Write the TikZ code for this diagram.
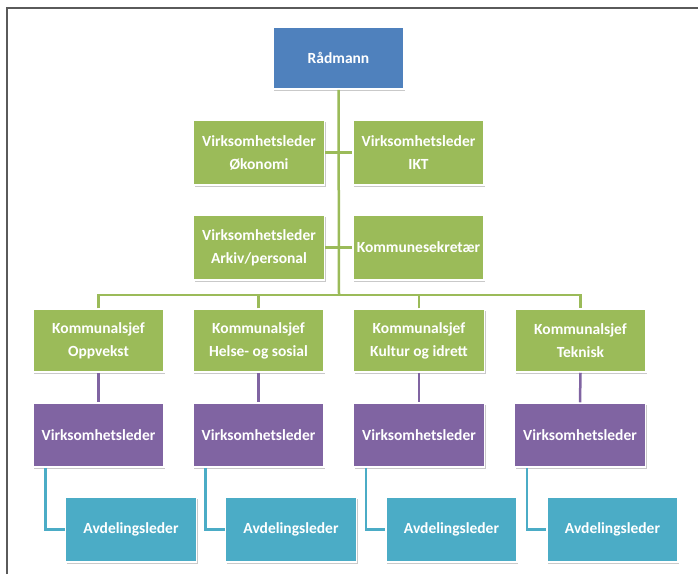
\documentclass[tikz,border=0pt]{standalone}
\usepackage{fontspec}
\setmainfont{Carlito}
\usetikzlibrary{shadows,calc}
\definecolor{cblue}{HTML}{4F81BD}
\definecolor{cgreen}{HTML}{9BBB59}
\definecolor{cpurple}{HTML}{8064A2}
\definecolor{cteal}{HTML}{4BACC6}
\definecolor{cframe}{HTML}{5A5A5A}
\begin{document}
\begin{tikzpicture}[x=1pt,y=-1pt,
  box/.style={rectangle, minimum width=131pt, minimum height=63pt, draw=white, line width=1.5pt,
    text=white, font=\fontsize{15.5}{23}\selectfont\bfseries, align=center, inner sep=2pt,
    drop shadow={shadow xshift=1pt, shadow yshift=-2pt, opacity=0.35, fill=black!60}},
  bluebox/.style={box, fill=cblue},
  greenbox/.style={box, fill=cgreen},
  purplebox/.style={box, fill=cpurple},
  tealbox/.style={box, fill=cteal},
  gline/.style={draw=cgreen, line width=2.5pt},
  pline/.style={draw=cpurple, line width=2.5pt},
  tline/.style={draw=cteal, line width=2.5pt}]
\useasboundingbox (0,0) rectangle (698,574);
\fill[white] (0,0) rectangle (698,574);
\draw[cframe, line width=1.3pt] (7,574) -- (7,8) -- (698,8);

\node[bluebox, minimum height=62pt] (r) at (338.5,58) {Rådmann};
\node[greenbox, minimum height=65pt] (ok) at (259,152.5) {Virksomhetsleder\\Økonomi};
\node[greenbox, minimum height=65pt] (ikt) at (418.5,152.5) {Virksomhetsleder\\IKT};
\node[greenbox, minimum height=65pt] (ark) at (259,247.5) {Virksomhetsleder\\Arkiv/personal};
\node[greenbox, minimum height=65pt] (ks) at (418.5,247.5) {Kommunesekretær};

\node[greenbox] (k1) at (98.5,340.5) {Kommunalsjef\\Oppvekst};
\node[greenbox] (k2) at (258.5,340.5) {Kommunalsjef\\Helse- og sosial};
\node[greenbox] (k3) at (419,340.5) {Kommunalsjef\\Kultur og idrett};
\node[greenbox] (k4) at (580.5,340.5) {Kommunalsjef\\Teknisk};

\node[purplebox, minimum height=64pt] (v1) at (98.5,435) {Virksomhetsleder};
\node[purplebox, minimum height=64pt] (v2) at (258.5,435) {Virksomhetsleder};
\node[purplebox, minimum height=64pt] (v3) at (419,435) {Virksomhetsleder};
\node[purplebox, minimum height=64pt] (v4) at (580,435) {Virksomhetsleder};

\node[tealbox, minimum height=65pt] (a1) at (131,529.5) {Avdelingsleder};
\node[tealbox, minimum height=65pt] (a2) at (291,529.5) {Avdelingsleder};
\node[tealbox, minimum height=65pt] (a3) at (451.5,529.5) {Avdelingsleder};
\node[tealbox, minimum height=65pt] (a4) at (612.5,529.5) {Avdelingsleder};

\coordinate (bus) at (339,295);
\draw[gline] (r.south) -- (bus);
\draw[gline] (ok.east) -- (ikt.west);
\draw[gline] (ark.east) -- (ks.west);
\draw[gline] (k1.north) -- (k1.north |- bus) -- (k4.north |- bus) -- (k4.north);
\draw[gline] (k2.north) -- (k2.north |- bus);
\draw[gline] (k3.north) -- (k3.north |- bus);

\foreach \i in {1,2,3,4}{
  \draw[pline] (k\i.south) -- (v\i.north);
  \draw[tline] ([xshift=13pt]v\i.south west) |- (a\i.west);
}
\end{tikzpicture}
\end{document}
